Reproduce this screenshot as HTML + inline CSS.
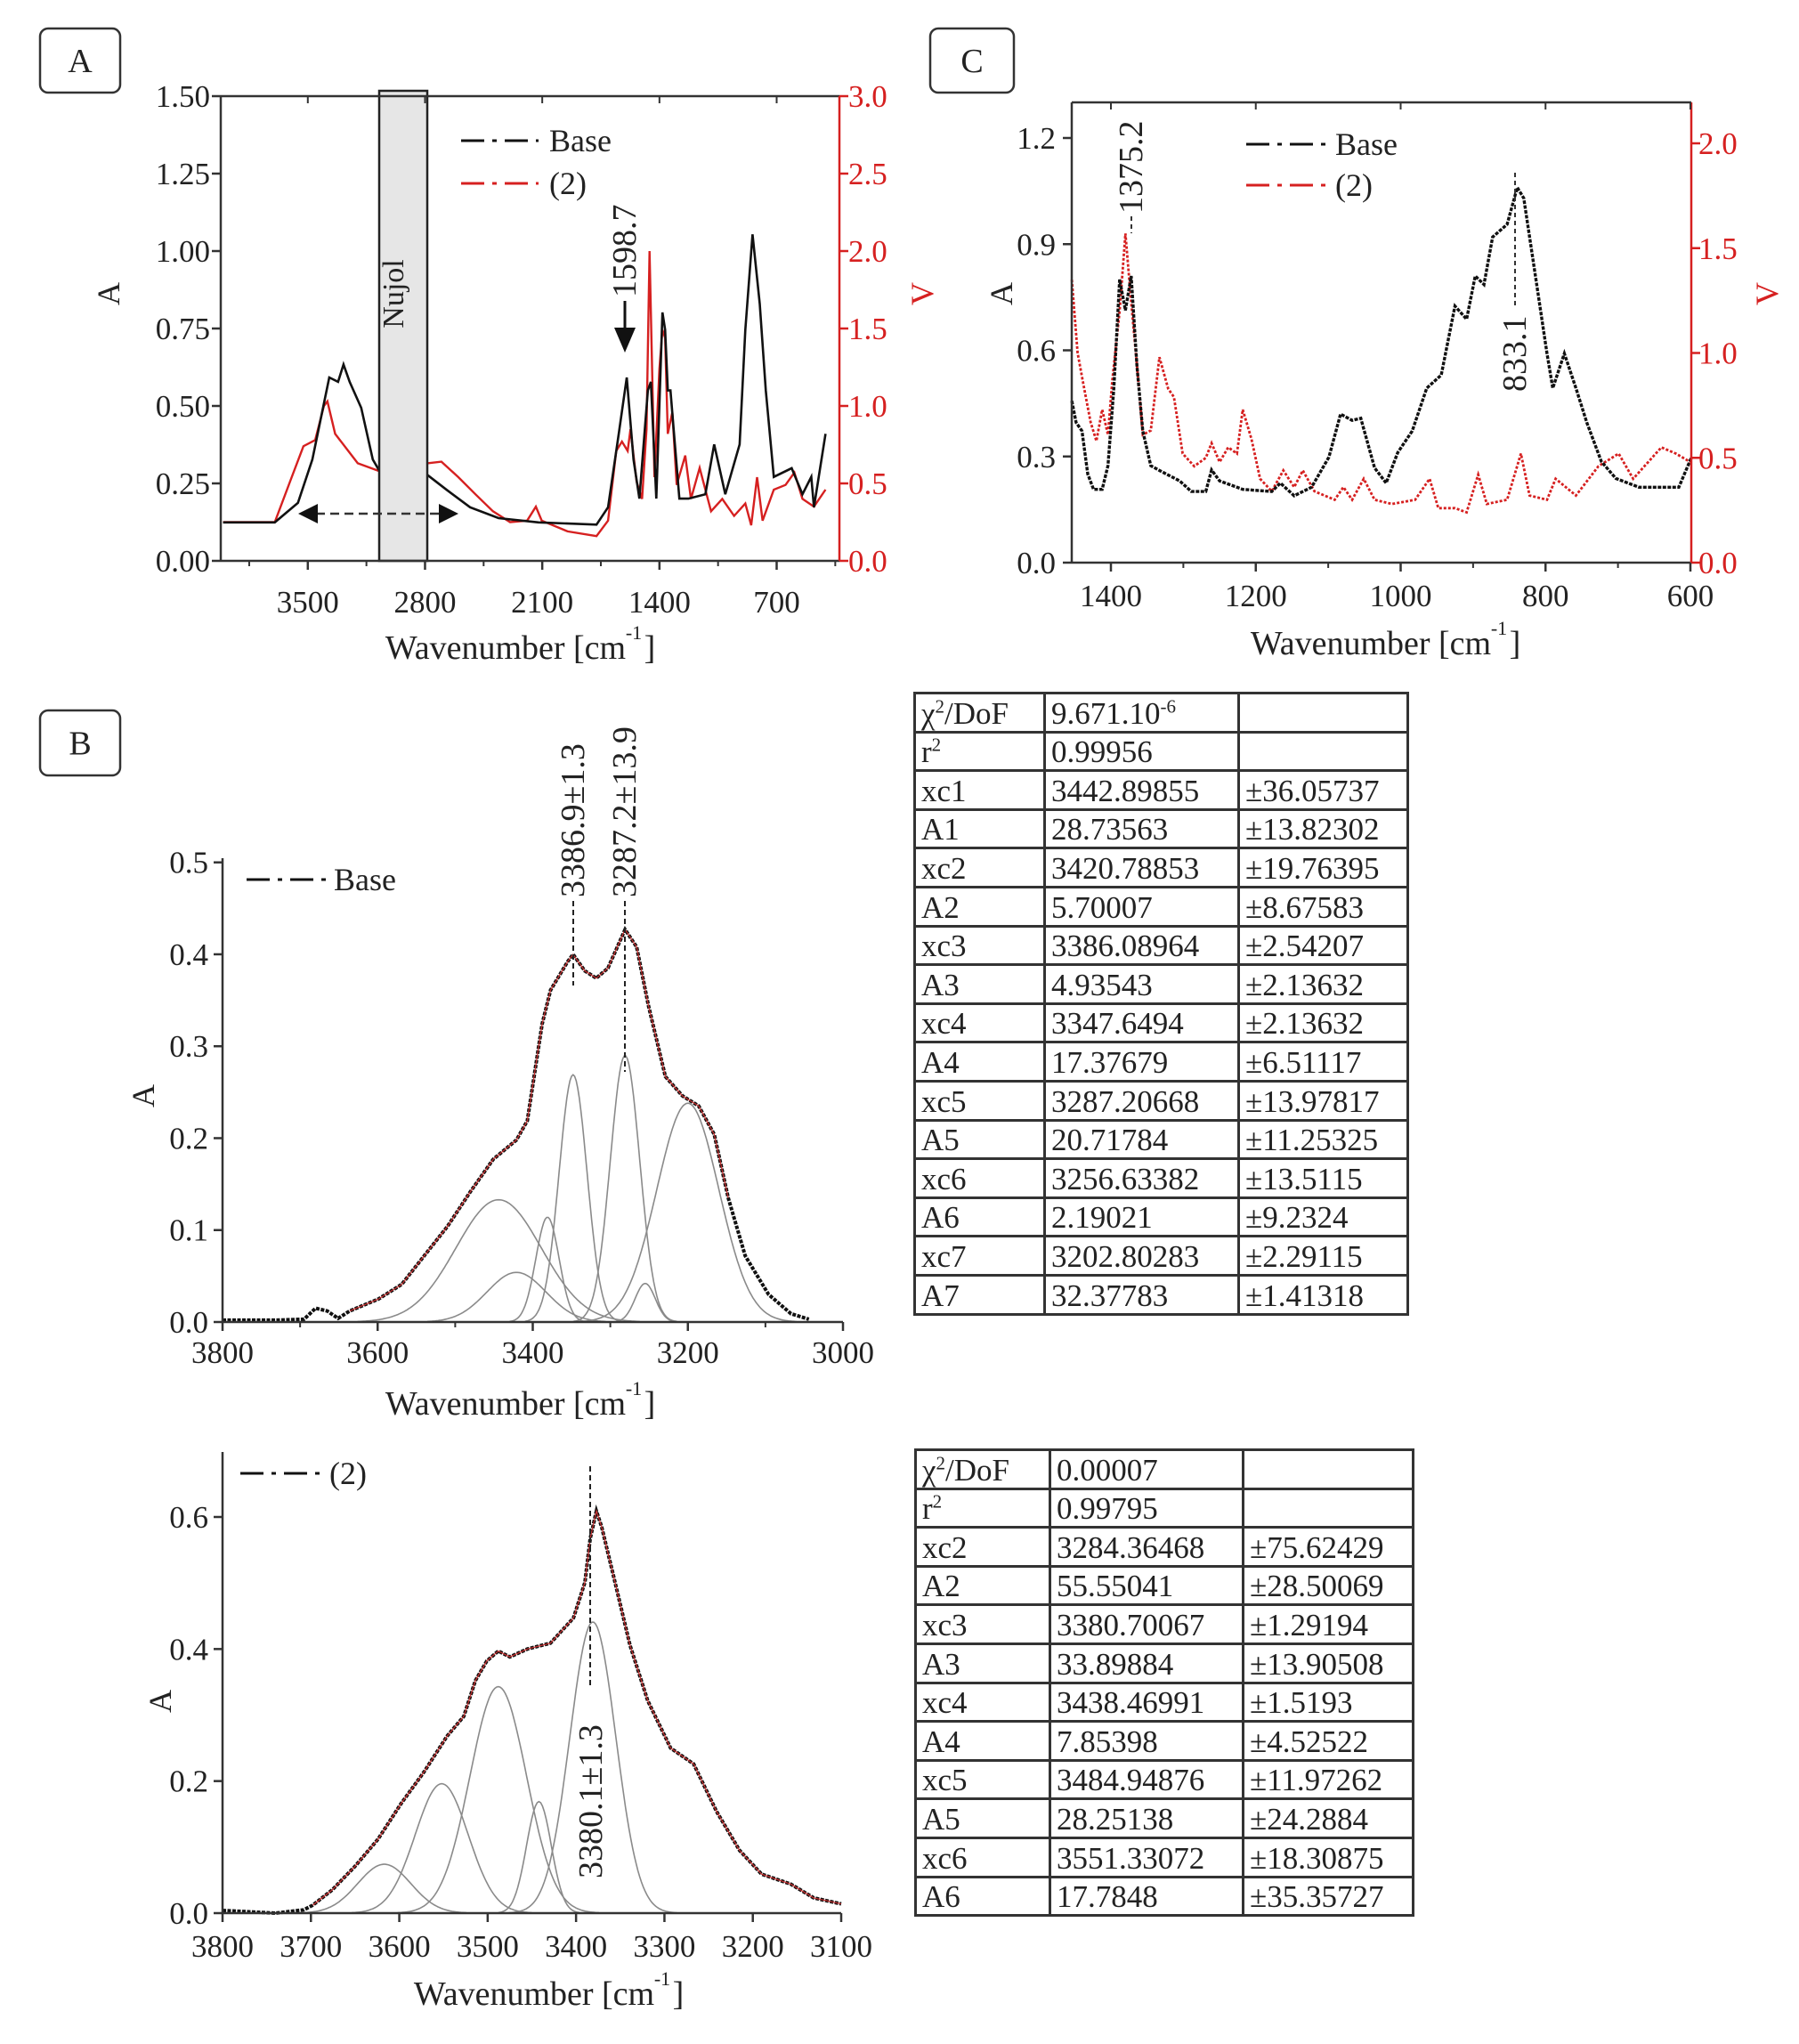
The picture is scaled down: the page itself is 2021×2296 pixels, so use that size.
<!DOCTYPE html>
<html><head><meta charset="utf-8">
<style>
html,body{margin:0;padding:0;background:#fff;}
body{width:2021px;height:2296px;position:relative;overflow:hidden;font-family:"Liberation Serif",serif;}
svg{position:absolute;left:0;top:0;}
table{position:absolute;border-collapse:collapse;font-family:"Liberation Serif",serif;font-size:35px;color:#222;table-layout:fixed;}
td{border:3px solid #333;height:40.6px;padding:0 0 0 6px;line-height:38px;white-space:nowrap;vertical-align:bottom;overflow:hidden;}
sup{font-size:21px;line-height:0;}
</style></head>
<body>
<svg id="fig" width="2021" height="2296" viewBox="0 0 2021 2296"></svg>

<table style="left:1026px;top:777px;">
<colgroup><col style="width:146px"><col style="width:218px"><col style="width:190px"></colgroup>
<tr><td>χ<sup>2</sup>/DoF</td><td>9.671.10<sup>-6</sup></td><td></td></tr>
<tr><td>r<sup>2</sup></td><td>0.99956</td><td></td></tr>
<tr><td>xc1</td><td>3442.89855</td><td>±36.05737</td></tr>
<tr><td>A1</td><td>28.73563</td><td>±13.82302</td></tr>
<tr><td>xc2</td><td>3420.78853</td><td>±19.76395</td></tr>
<tr><td>A2</td><td>5.70007</td><td>±8.67583</td></tr>
<tr><td>xc3</td><td>3386.08964</td><td>±2.54207</td></tr>
<tr><td>A3</td><td>4.93543</td><td>±2.13632</td></tr>
<tr><td>xc4</td><td>3347.6494</td><td>±2.13632</td></tr>
<tr><td>A4</td><td>17.37679</td><td>±6.51117</td></tr>
<tr><td>xc5</td><td>3287.20668</td><td>±13.97817</td></tr>
<tr><td>A5</td><td>20.71784</td><td>±11.25325</td></tr>
<tr><td>xc6</td><td>3256.63382</td><td>±13.5115</td></tr>
<tr><td>A6</td><td>2.19021</td><td>±9.2324</td></tr>
<tr><td>xc7</td><td>3202.80283</td><td>±2.29115</td></tr>
<tr><td>A7</td><td>32.37783</td><td>±1.41318</td></tr>
</table>

<table style="left:1027px;top:1627px;">
<colgroup><col style="width:151px"><col style="width:217px"><col style="width:191px"></colgroup>
<tr><td>χ<sup>2</sup>/DoF</td><td>0.00007</td><td></td></tr>
<tr><td>r<sup>2</sup></td><td>0.99795</td><td></td></tr>
<tr><td>xc2</td><td>3284.36468</td><td>±75.62429</td></tr>
<tr><td>A2</td><td>55.55041</td><td>±28.50069</td></tr>
<tr><td>xc3</td><td>3380.70067</td><td>±1.29194</td></tr>
<tr><td>A3</td><td>33.89884</td><td>±13.90508</td></tr>
<tr><td>xc4</td><td>3438.46991</td><td>±1.5193</td></tr>
<tr><td>A4</td><td>7.85398</td><td>±4.52522</td></tr>
<tr><td>xc5</td><td>3484.94876</td><td>±11.97262</td></tr>
<tr><td>A5</td><td>28.25138</td><td>±24.2884</td></tr>
<tr><td>xc6</td><td>3551.33072</td><td>±18.30875</td></tr>
<tr><td>A6</td><td>17.7848</td><td>±35.35727</td></tr>
</table>

<script>
// ===== Panel A data =====
const aXTicks = [3500, 2800, 2100, 1400, 700];
const aYTicks = [0, 0.25, 0.5, 0.75, 1.0, 1.25, 1.5];
const aYTickLabels = ["0.00","0.25","0.50","0.75","1.00","1.25","1.50"];
const aVTicks = [0, 0.5, 1.0, 1.5, 2.0, 2.5, 3.0];
const aVTickLabels = ["0.0","0.5","1.0","1.5","2.0","2.5","3.0"];
const aBase = [[4006,0.124],[3697,0.124],[3559,0.187],[3473,0.327],[3372,0.592],[3319,0.578],[3287,0.634],[3250,0.578],[3181,0.494],[3112,0.327],[3074,0.292],
 [2787,0.278],[2670,0.229],[2531,0.173],[2361,0.138],[2122,0.124],[1776,0.117],[1707,0.173],[1643,0.41],[1595,0.592],[1555,0.327],[1520,0.201],[1469,0.55],[1451,0.578],[1419,0.201],[1382,0.802],[1366,0.746],[1350,0.55],[1334,0.55],[1281,0.201],[1227,0.201],[1126,0.215],[1073,0.376],[1007,0.215],[921,0.376],[887,0.746],[844,1.054],[801,0.83],[765,0.55],[717,0.271],[610,0.299],[546,0.215],[493,0.271],[477,0.173],[408,0.41]];
const aRed = [[4006,0.25],[3697,0.25],[3596,0.54],[3526,0.74],[3456,0.78],[3404,1.0],[3383,1.03],[3337,0.82],[3202,0.63],[3074,0.58],
 [2787,0.63],[2702,0.64],[2601,0.54],[2499,0.43],[2394,0.32],[2292,0.25],[2190,0.26],[2138,0.35],[2103,0.26],[1949,0.19],[1776,0.16],[1707,0.26],[1658,0.71],[1624,0.77],[1590,0.71],[1573,0.85],[1536,0.51],[1504,0.40],[1477,0.85],[1459,2.0],[1441,1.1],[1430,0.54],[1400,1.24],[1382,1.49],[1366,1.44],[1350,0.82],[1323,0.96],[1297,0.49],[1246,0.68],[1212,0.40],[1160,0.60],[1092,0.32],[1025,0.40],[954,0.29],[887,0.37],[852,0.23],[817,0.54],[784,0.26],[717,0.46],[647,0.49],[594,0.57],[546,0.40],[477,0.35],[408,0.46]];
// ===== Panel C data =====
const cXTicks = [1400, 1200, 1000, 800, 600];
const cYTicks = [0, 0.3, 0.6, 0.9, 1.2];
const cYTickLabels = ["0.0","0.3","0.6","0.9","1.2"];
const cVTicks = [0, 0.5, 1.0, 1.5, 2.0];
const cVTickLabels = ["0.0","0.5","1.0","1.5","2.0"];
const cBase = [[1454,0.457],[1448,0.396],[1440,0.372],[1432,0.25],[1424,0.207],[1412,0.207],[1404,0.274],[1396,0.493],[1388,0.80],[1380,0.713],[1372,0.81],[1364,0.554],[1356,0.372],[1345,0.274],[1329,0.256],[1305,0.231],[1289,0.201],[1269,0.201],[1261,0.262],[1250,0.231],[1218,0.207],[1178,0.201],[1166,0.225],[1147,0.189],[1123,0.213],[1099,0.298],[1083,0.42],[1067,0.402],[1055,0.408],[1036,0.268],[1020,0.225],[1004,0.311],[984,0.372],[964,0.493],[944,0.53],[925,0.725],[909,0.688],[897,0.81],[885,0.786],[873,0.92],[853,0.956],[839,1.06],[830,1.03],[814,0.81],[798,0.591],[790,0.493],[774,0.591],[758,0.493],[743,0.396],[723,0.286],[703,0.238],[671,0.213],[616,0.213],[598,0.30]];
const cRed = [[1454,1.35],[1446,1.0],[1438,0.85],[1428,0.67],[1420,0.58],[1412,0.73],[1404,0.61],[1398,0.87],[1388,1.2],[1380,1.57],[1372,1.24],[1364,0.94],[1356,0.61],[1345,0.63],[1333,0.98],[1321,0.83],[1313,0.79],[1301,0.52],[1285,0.46],[1269,0.50],[1261,0.57],[1250,0.48],[1238,0.55],[1226,0.52],[1218,0.73],[1206,0.59],[1194,0.40],[1178,0.34],[1162,0.44],[1147,0.36],[1135,0.44],[1119,0.34],[1091,0.30],[1079,0.36],[1067,0.30],[1051,0.40],[1036,0.30],[1012,0.28],[980,0.30],[960,0.40],[948,0.26],[925,0.26],[909,0.24],[893,0.42],[881,0.28],[853,0.30],[834,0.52],[822,0.32],[798,0.30],[786,0.40],[758,0.32],[727,0.46],[699,0.52],[679,0.40],[640,0.55],[620,0.52],[600,0.48]];
// ===== Panel B (top) data =====
const b1XTicks = [3800, 3600, 3400, 3200, 3000];
const b1YTicks = [0, 0.1, 0.2, 0.3, 0.4, 0.5];
const b1YTickLabels = ["0.0","0.1","0.2","0.3","0.4","0.5"];
const b1Curve = [[3800,0.002],[3732,0.002],[3695,0.003],[3680,0.015],[3665,0.012],[3651,0.004],[3636,0.012],[3599,0.025],[3569,0.041],[3540,0.072],[3510,0.104],[3481,0.141],[3451,0.177],[3421,0.198],[3407,0.219],[3388,0.324],[3377,0.361],[3355,0.392],[3348,0.40],[3333,0.382],[3318,0.374],[3303,0.385],[3281,0.427],[3266,0.408],[3251,0.345],[3229,0.267],[3207,0.246],[3186,0.235],[3166,0.204],[3148,0.135],[3126,0.072],[3096,0.030],[3067,0.009],[3044,0.003]];
const b1PeakCenters = [3444, 3421, 3381, 3348, 3281, 3255, 3200];
const b1PeakHeights = [0.133, 0.054, 0.114, 0.269, 0.29, 0.042, 0.238];
const b1PeakSigmas = [55, 38, 15, 18, 19, 13, 40];
// ===== Panel B (bottom) data =====
const b2XTicks = [3800, 3700, 3600, 3500, 3400, 3300, 3200, 3100];
const b2YTicks = [0, 0.2, 0.4, 0.6];
const b2YTickLabels = ["0.0","0.2","0.4","0.6"];
const b2Curve = [[3800,0.004],[3740,0],[3708,0.005],[3698,0.012],[3676,0.035],[3650,0.071],[3624,0.112],[3598,0.166],[3572,0.214],[3546,0.268],[3527,0.298],[3514,0.352],[3501,0.382],[3488,0.397],[3475,0.388],[3455,0.40],[3429,0.409],[3403,0.447],[3390,0.501],[3384,0.567],[3377,0.609],[3371,0.585],[3358,0.513],[3339,0.406],[3319,0.322],[3293,0.25],[3267,0.226],[3241,0.154],[3215,0.095],[3190,0.059],[3157,0.044],[3131,0.023],[3100,0.014]];
const b2PeakCenters = [3617, 3552, 3488, 3442, 3381];
const b2PeakHeights = [0.074, 0.196, 0.343, 0.169, 0.441];
const b2PeakSigmas = [30, 30, 32, 14, 26];

const NS = "http://www.w3.org/2000/svg";
const svg = document.getElementById('fig');
const FS = 35;
function mk(tag, attrs, parent) {
  const e = document.createElementNS(NS, tag);
  for (const k in attrs) e.setAttribute(k, attrs[k]);
  (parent || svg).appendChild(e);
  return e;
}
function txt(str, x, y, size, anchor, color, rot, parent) {
  const t = mk('text', {x: x, y: y, 'font-size': size, 'text-anchor': anchor || 'middle', fill: color || '#222', 'font-family': 'Liberation Serif, serif'}, parent);
  if (rot) t.setAttribute('transform', 'rotate(' + rot + ' ' + x + ' ' + y + ')');
  t.textContent = str;
  return t;
}
function pathOf(pts, sx, sy) {
  return pts.map((p, i) => (i ? 'L' : 'M') + sx(p[0]).toFixed(1) + ' ' + sy(p[1]).toFixed(1)).join(' ');
}
function gaussPts(c, h, s, lo, hi) {
  const out = [];
  for (let w = lo; w <= hi; w += 2) {
    const v = h * Math.exp(-0.5 * Math.pow((w - c) / s, 2));
    if (v > 0.0005) out.push([w, v]);
  }
  return out;
}
function boxLabel(letter, x, y, w, h, name) {
  const g = mk('g', {});
  
  
  mk('rect', {x: x, y: y, width: w, height: h, rx: 9, fill: '#fff', stroke: '#333', 'stroke-width': 2.5}, g);
  txt(letter, x + w / 2, y + h / 2 + 13, 38, 'middle', '#222', 0, g);
}

// ================= PANEL A =================
(function () {
  const L = 248, R = 943, T = 108, B = 630;
  const xA = w => 345.8 + (3500 - w) * (526.7 / 2800);
  const yA = a => B - a * ((B - T) / 1.5);
  const yV = v => B - v * ((B - T) / 3.0);
  const g = mk('g', {});
  
  
  boxLabel('A', 45, 32, 90, 72, 'panel-a-label');
  const red = mk('path', {d: pathOf(aRed, xA, yV), fill: 'none', stroke: '#d62020', 'stroke-width': 2.4}, g);
  
  
  const blk = mk('path', {d: pathOf(aBase, xA, yA), fill: 'none', stroke: '#111', 'stroke-width': 2.6}, g);
  
  
  const nj = mk('rect', {x: 426, y: 102, width: 54, height: B - 102, fill: '#e6e6e6', stroke: '#222', 'stroke-width': 2.5}, g);
  
  
  txt('Nujol', 453, 330, 34, 'middle', '#222', -90, g);
  mk('line', {x1: L, y1: T, x2: R, y2: T, stroke: '#333', 'stroke-width': 2.5}, g);
  mk('line', {x1: L, y1: T, x2: L, y2: B, stroke: '#333', 'stroke-width': 2.5}, g);
  mk('line', {x1: L, y1: B, x2: R, y2: B, stroke: '#333', 'stroke-width': 2.5}, g);
  mk('line', {x1: R, y1: T, x2: R, y2: B, stroke: '#d62020', 'stroke-width': 2.5}, g);
  aYTicks.forEach((v, i) => {
    mk('line', {x1: L - 10, y1: yA(v), x2: L, y2: yA(v), stroke: '#333', 'stroke-width': 2.5}, g);
    txt(aYTickLabels[i], 236, yA(v) + 12, FS, 'end', '#222', 0, g);
  });
  aVTicks.forEach((v, i) => {
    mk('line', {x1: R, y1: yV(v), x2: R + 10, y2: yV(v), stroke: '#d62020', 'stroke-width': 2.5}, g);
    txt(aVTickLabels[i], 953, yV(v) + 12, FS, 'start', '#d62020', 0, g);
  });
  aXTicks.forEach(w => {
    mk('line', {x1: xA(w), y1: B, x2: xA(w), y2: B + 10, stroke: '#333', 'stroke-width': 2.5}, g);
    mk('line', {x1: xA(w), y1: T, x2: xA(w), y2: T + 8, stroke: '#333', 'stroke-width': 2}, g);
    txt(String(w), xA(w), 688, FS, 'middle', '#222', 0, g);
  });
  for (let w = 3850; w > 300; w -= 700) {
    mk('line', {x1: xA(w), y1: B, x2: xA(w), y2: B + 6, stroke: '#333', 'stroke-width': 2}, g);
  }
  txt('A', 134, 330, 36, 'middle', '#222', -90, g);
  txt('V', 1048, 330, 36, 'middle', '#d62020', -90, g);
  txt('Wavenumber [cm', 568, 740, 38, 'middle', '#222', 0, g);
  txt('-1', 712, 718, 22, 'middle', '#222', 0, g);
  txt(']', 730, 740, 38, 'middle', '#222', 0, g);
  mk('line', {x1: 518, y1: 158, x2: 605, y2: 158, stroke: '#111', 'stroke-width': 3, 'stroke-dasharray': '26,9,5,9'}, g);
  txt('Base', 617, 170, 36, 'start', '#222', 0, g);
  mk('line', {x1: 518, y1: 206, x2: 605, y2: 206, stroke: '#d62020', 'stroke-width': 3, 'stroke-dasharray': '26,9,5,9'}, g);
  txt('(2)', 617, 218, 36, 'start', '#222', 0, g);
  txt('1598.7', 714, 334, 38, 'start', '#222', -90, g);
  mk('line', {x1: 702, y1: 338, x2: 702, y2: 370, stroke: '#111', 'stroke-width': 3}, g);
  mk('polygon', {points: '690,368 714,368 702,396', fill: '#111'}, g);
  mk('line', {x1: 355, y1: 577, x2: 495, y2: 577, stroke: '#333', 'stroke-width': 2.5, 'stroke-dasharray': '10,6'}, g);
  mk('polygon', {points: '335,577 357,566 357,588', fill: '#111'}, g);
  mk('polygon', {points: '515,577 493,566 493,588', fill: '#111'}, g);
})();

// ================= PANEL C =================
(function () {
  const L = 1204, R = 1900, T = 115, B = 632;
  const xC = w => 1248 + (1400 - w) * (651 / 800);
  const yC = a => B - a * (477 / 1.2);
  const yV = v => B - v * (471 / 2.0);
  const g = mk('g', {});
  
  
  boxLabel('C', 1045, 32, 94, 72, 'panel-c-label');
  const red = mk('path', {d: pathOf(cRed, xC, yV), fill: 'none', stroke: '#d62020', 'stroke-width': 2.8, 'stroke-dasharray': '3,2'}, g);
  
  
  const blk = mk('path', {d: pathOf(cBase, xC, yC), fill: 'none', stroke: '#111', 'stroke-width': 3.4, 'stroke-dasharray': '4,1.5'}, g);
  
  
  mk('line', {x1: L, y1: T, x2: R, y2: T, stroke: '#333', 'stroke-width': 2.5}, g);
  mk('line', {x1: L, y1: T, x2: L, y2: B, stroke: '#333', 'stroke-width': 2.5}, g);
  mk('line', {x1: L, y1: B, x2: R, y2: B, stroke: '#333', 'stroke-width': 2.5}, g);
  mk('line', {x1: R, y1: T, x2: R, y2: B, stroke: '#d62020', 'stroke-width': 2.5}, g);
  cYTicks.forEach((v, i) => {
    mk('line', {x1: L - 10, y1: yC(v), x2: L, y2: yC(v), stroke: '#333', 'stroke-width': 2.5}, g);
    txt(cYTickLabels[i], 1186, yC(v) + 12, FS, 'end', '#222', 0, g);
  });
  cVTicks.forEach((v, i) => {
    mk('line', {x1: R, y1: yV(v), x2: R + 10, y2: yV(v), stroke: '#d62020', 'stroke-width': 2.5}, g);
    txt(cVTickLabels[i], 1908, yV(v) + 12, FS, 'start', '#d62020', 0, g);
  });
  cXTicks.forEach(w => {
    mk('line', {x1: xC(w), y1: B, x2: xC(w), y2: B + 10, stroke: '#333', 'stroke-width': 2.5}, g);
    mk('line', {x1: xC(w), y1: T, x2: xC(w), y2: T + 8, stroke: '#333', 'stroke-width': 2}, g);
    txt(String(w), xC(w), 681, FS, 'middle', '#222', 0, g);
  });
  for (let w = 1300; w > 600; w -= 200) {
    mk('line', {x1: xC(w), y1: B, x2: xC(w), y2: B + 6, stroke: '#333', 'stroke-width': 2}, g);
  }
  txt('A', 1137, 330, 36, 'middle', '#222', -90, g);
  txt('V', 1997, 330, 36, 'middle', '#d62020', -90, g);
  txt('Wavenumber [cm', 1540, 735, 38, 'middle', '#222', 0, g);
  txt('-1', 1684, 713, 22, 'middle', '#222', 0, g);
  txt(']', 1702, 735, 38, 'middle', '#222', 0, g);
  mk('line', {x1: 1400, y1: 162, x2: 1490, y2: 162, stroke: '#111', 'stroke-width': 3, 'stroke-dasharray': '26,9,5,9'}, g);
  txt('Base', 1500, 174, 36, 'start', '#222', 0, g);
  mk('line', {x1: 1400, y1: 208, x2: 1490, y2: 208, stroke: '#d62020', 'stroke-width': 3, 'stroke-dasharray': '26,9,5,9'}, g);
  txt('(2)', 1500, 220, 36, 'start', '#222', 0, g);
  txt('1375.2', 1283, 240, 38, 'start', '#222', -90, g);
  mk('line', {x1: 1271, y1: 243, x2: 1271, y2: 262, stroke: '#333', 'stroke-width': 2, 'stroke-dasharray': '5,4'}, g);
  txt('833.1', 1714, 440, 38, 'start', '#222', -90, g);
  mk('line', {x1: 1702, y1: 194, x2: 1702, y2: 345, stroke: '#333', 'stroke-width': 2, 'stroke-dasharray': '5,4'}, g);
})();

// ================= PANEL B TOP =================
(function () {
  const L = 250, R = 947, B = 1485, TOP = 964;
  const xB = w => L + (3800 - w) * ((R - L) / 800);
  const yB = a => B - a * (516.3 / 0.5);
  const g = mk('g', {});
  
  
  boxLabel('B', 45, 798, 90, 73, 'panel-b-label');
  b1PeakCenters.forEach((c, i) => {
    const p = mk('path', {d: pathOf(gaussPts(c, b1PeakHeights[i], b1PeakSigmas[i], 3000, 3800), xB, yB), fill: 'none', stroke: '#8a8a8a', 'stroke-width': 1.6}, g);
    
    
  });
  const blk = mk('path', {d: pathOf(b1Curve, xB, yB), fill: 'none', stroke: '#111', 'stroke-width': 4, 'stroke-dasharray': '4,1.5'}, g);
  
  
  const fit = mk('path', {d: pathOf(b1Curve.slice(6, 30), xB, yB), fill: 'none', stroke: '#c83030', 'stroke-width': 1.2}, g);
  
  
  mk('line', {x1: L, y1: TOP, x2: L, y2: B, stroke: '#333', 'stroke-width': 2.5}, g);
  mk('line', {x1: L, y1: B, x2: R, y2: B, stroke: '#333', 'stroke-width': 2.5}, g);
  b1YTicks.forEach((v, i) => {
    mk('line', {x1: L - 10, y1: yB(v), x2: L, y2: yB(v), stroke: '#333', 'stroke-width': 2.5}, g);
    txt(b1YTickLabels[i], 234, yB(v) + 12, FS, 'end', '#222', 0, g);
  });
  b1XTicks.forEach(w => {
    mk('line', {x1: xB(w), y1: B, x2: xB(w), y2: B + 10, stroke: '#333', 'stroke-width': 2.5}, g);
    txt(String(w), xB(w), 1531, FS, 'middle', '#222', 0, g);
  });
  for (let w = 3700; w > 3000; w -= 200) {
    mk('line', {x1: xB(w), y1: B, x2: xB(w), y2: B + 6, stroke: '#333', 'stroke-width': 2}, g);
  }
  txt('A', 173, 1231, 36, 'middle', '#222', -90, g);
  txt('Wavenumber [cm', 568, 1589, 38, 'middle', '#222', 0, g);
  txt('-1', 712, 1567, 22, 'middle', '#222', 0, g);
  txt(']', 730, 1589, 38, 'middle', '#222', 0, g);
  mk('line', {x1: 277, y1: 988, x2: 367, y2: 988, stroke: '#111', 'stroke-width': 3, 'stroke-dasharray': '26,9,5,9'}, g);
  txt('Base', 375, 1000, 36, 'start', '#222', 0, g);
  txt('3386.9±1.3', 656, 1008, 38, 'start', '#222', -90, g);
  mk('line', {x1: 644, y1: 1012, x2: 644, y2: 1107, stroke: '#222', 'stroke-width': 2, 'stroke-dasharray': '6,4'}, g);
  txt('3287.2±13.9', 714, 1008, 38, 'start', '#222', -90, g);
  mk('line', {x1: 702, y1: 1012, x2: 702, y2: 1204, stroke: '#222', 'stroke-width': 2, 'stroke-dasharray': '6,4'}, g);
})();

// ================= PANEL B BOTTOM =================
(function () {
  const L = 250, R = 945, B = 2149, TOP = 1631;
  const xB = w => L + (3800 - w) * ((R - L) / 700);
  const yB = a => B - a * (445 / 0.6);
  const g = mk('g', {});
  
  
  b2PeakCenters.forEach((c, i) => {
    const p = mk('path', {d: pathOf(gaussPts(c, b2PeakHeights[i], b2PeakSigmas[i], 3100, 3800), xB, yB), fill: 'none', stroke: '#8a8a8a', 'stroke-width': 1.6}, g);
    
    
  });
  const blk = mk('path', {d: pathOf(b2Curve, xB, yB), fill: 'none', stroke: '#111', 'stroke-width': 4, 'stroke-dasharray': '4,1.5'}, g);
  
  
  const fit = mk('path', {d: pathOf(b2Curve.slice(3), xB, yB), fill: 'none', stroke: '#c83030', 'stroke-width': 1.2}, g);
  
  
  mk('line', {x1: L, y1: TOP, x2: L, y2: B, stroke: '#333', 'stroke-width': 2.5}, g);
  mk('line', {x1: L, y1: B, x2: R, y2: B, stroke: '#333', 'stroke-width': 2.5}, g);
  b2YTicks.forEach((v, i) => {
    mk('line', {x1: L - 10, y1: yB(v), x2: L, y2: yB(v), stroke: '#333', 'stroke-width': 2.5}, g);
    txt(b2YTickLabels[i], 234, yB(v) + 12, FS, 'end', '#222', 0, g);
  });
  b2XTicks.forEach(w => {
    mk('line', {x1: xB(w), y1: B, x2: xB(w), y2: B + 10, stroke: '#333', 'stroke-width': 2.5}, g);
    txt(String(w), xB(w), 2198, FS, 'middle', '#222', 0, g);
  });
  txt('A', 192, 1911, 36, 'middle', '#222', -90, g);
  txt('Wavenumber [cm', 600, 2252, 38, 'middle', '#222', 0, g);
  txt('-1', 744, 2230, 22, 'middle', '#222', 0, g);
  txt(']', 762, 2252, 38, 'middle', '#222', 0, g);
  mk('line', {x1: 270, y1: 1655, x2: 360, y2: 1655, stroke: '#111', 'stroke-width': 3, 'stroke-dasharray': '26,9,5,9'}, g);
  txt('(2)', 370, 1667, 36, 'start', '#222', 0, g);
  mk('line', {x1: 663, y1: 1647, x2: 663, y2: 1895, stroke: '#222', 'stroke-width': 2, 'stroke-dasharray': '6,4'}, g);
  txt('3380.1±1.3', 676, 2110, 38, 'start', '#222', -90, g);
})();
</script>
</body></html>
